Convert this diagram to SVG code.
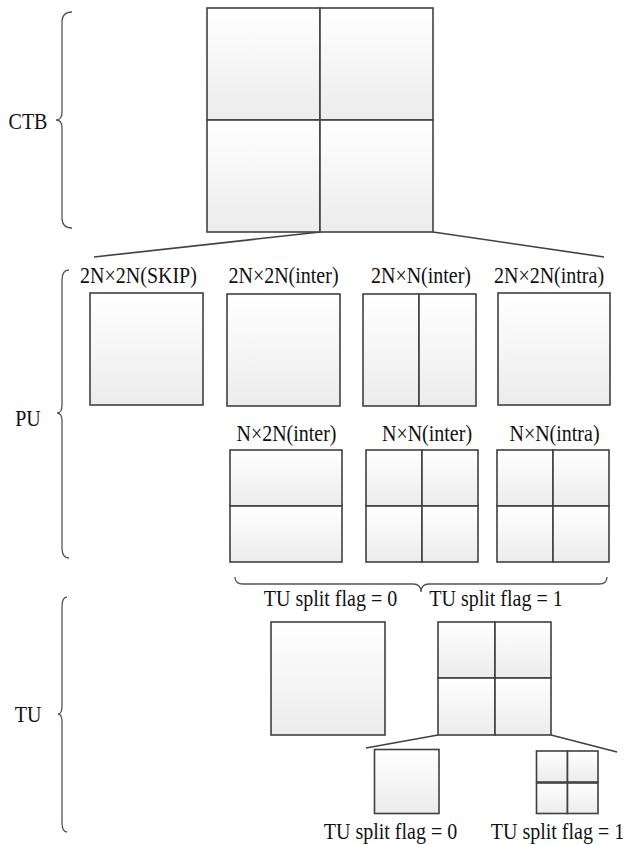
<svg xmlns="http://www.w3.org/2000/svg" width="626" height="845" viewBox="0 0 626 845">
<style>
.c{fill:url(#g);stroke:#404040;stroke-width:1.6}
.l{fill:none;stroke:#404040;stroke-width:1.6}
.b{fill:none;stroke:#555;stroke-width:1.3}
.t{font-size:20px;fill:#111;text-anchor:middle}
</style>
<defs>
<linearGradient id="g" x1="0" y1="0" x2="0" y2="1">
<stop offset="0" stop-color="#ffffff"/>
<stop offset="1" stop-color="#ececec"/>
</linearGradient>
</defs>
<rect width="626" height="845" fill="#fff"/>

<g id="braces">
<path class="b" d="M72,12 Q62,12 62,22 L62,112 Q62,120 56,120 Q62,120 62,128 L62,218 Q62,228 72,228"/>
<path class="b" d="M69,270 Q62,270 62,280 L62,405 Q62,413 57,413 Q62,413 62,421 L62,548 Q62,558 69,558"/>
<path class="b" d="M67,597 Q62,597 62,607 L62,706 Q62,714 58,714 Q62,714 62,722 L62,822 Q62,832 67,832"/>
<path class="b" d="M235,577 Q235,584 243,584 L413,584 Q421,584 421,592 Q421,584 429,584 L599,584 Q607,584 607,577"/>
</g>

<g id="connectors">
<line class="l" x1="320" y1="232" x2="94" y2="257"/>
<line class="l" x1="433" y1="232" x2="604" y2="257"/>
<line class="l" x1="438" y1="735" x2="366" y2="748"/>
<line class="l" x1="551" y1="735" x2="617" y2="752"/>
</g>

<g font-family="Liberation Serif, Times New Roman, serif">
<g id="labels">
<text class="t" transform="translate(28,129) scale(1,1.12)">CTB</text>
<text class="t" transform="translate(28,426) scale(1,1.12)">PU</text>
<text class="t" transform="translate(28,722) scale(1,1.12)">TU</text>
</g>

<g id="ctb">
<rect class="c" x="207" y="8" width="113" height="112"/>
<rect class="c" x="320" y="8" width="113" height="112"/>
<rect class="c" x="207" y="120" width="113" height="112"/>
<rect class="c" x="320" y="120" width="113" height="112"/>
</g>

<g id="pu-2Nx2N-skip">
<text class="t" transform="translate(138.5,283) scale(1,1.12)">2N×2N(SKIP)</text>
<rect class="c" x="90" y="293" width="113" height="112"/>
</g>
<g id="pu-2Nx2N-inter">
<text class="t" transform="translate(283.5,283) scale(1,1.12)">2N×2N(inter)</text>
<rect class="c" x="227" y="294" width="113" height="112"/>
</g>
<g id="pu-2NxN-inter">
<text class="t" transform="translate(421,283) scale(1,1.12)">2N×N(inter)</text>
<rect class="c" x="363" y="294" width="56" height="112"/>
<rect class="c" x="419" y="294" width="57" height="112"/>
</g>
<g id="pu-2Nx2N-intra">
<text class="t" transform="translate(549,283) scale(1,1.12)">2N×2N(intra)</text>
<rect class="c" x="498" y="293" width="112" height="112"/>
</g>

<g id="pu-Nx2N-inter">
<text class="t" transform="translate(286.5,441) scale(1,1.12)">N×2N(inter)</text>
<rect class="c" x="230" y="450" width="112" height="56"/>
<rect class="c" x="230" y="506" width="112" height="56"/>
</g>
<g id="pu-NxN-inter">
<text class="t" transform="translate(427,441) scale(1,1.12)">N×N(inter)</text>
<rect class="c" x="366" y="450" width="56" height="56"/>
<rect class="c" x="422" y="450" width="56" height="56"/>
<rect class="c" x="366" y="506" width="56" height="56"/>
<rect class="c" x="422" y="506" width="56" height="56"/>
</g>
<g id="pu-NxN-intra">
<text class="t" transform="translate(554.5,441) scale(1,1.12)">N×N(intra)</text>
<rect class="c" x="497" y="450" width="56" height="56"/>
<rect class="c" x="553" y="450" width="56" height="56"/>
<rect class="c" x="497" y="506" width="56" height="56"/>
<rect class="c" x="553" y="506" width="56" height="56"/>
</g>

<g id="tu-flag0">
<text class="t" transform="translate(330.5,606) scale(1,1.12)">TU split flag = 0</text>
<rect class="c" x="271" y="622" width="114" height="113"/>
</g>
<g id="tu-flag1">
<text class="t" transform="translate(496,606) scale(1,1.12)">TU split flag = 1</text>
<rect class="c" x="438" y="622" width="57" height="56"/>
<rect class="c" x="495" y="622" width="56" height="56"/>
<rect class="c" x="438" y="678" width="57" height="57"/>
<rect class="c" x="495" y="678" width="56" height="57"/>
</g>

<g id="tu-sub-flag0">
<rect class="c" x="374.5" y="749.5" width="64.5" height="64"/>
<text class="t" transform="translate(390.5,839) scale(1,1.12)">TU split flag = 0</text>
</g>
<g id="tu-sub-flag1">
<rect class="c" x="536.5" y="751" width="31" height="31"/>
<rect class="c" x="567.5" y="751" width="30.5" height="31"/>
<rect class="c" x="536.5" y="783" width="31" height="30.5"/>
<rect class="c" x="567.5" y="783" width="30.5" height="30.5"/>
<text class="t" transform="translate(557.5,839) scale(1,1.12)">TU split flag = 1</text>
</g>
</g>
</svg>
